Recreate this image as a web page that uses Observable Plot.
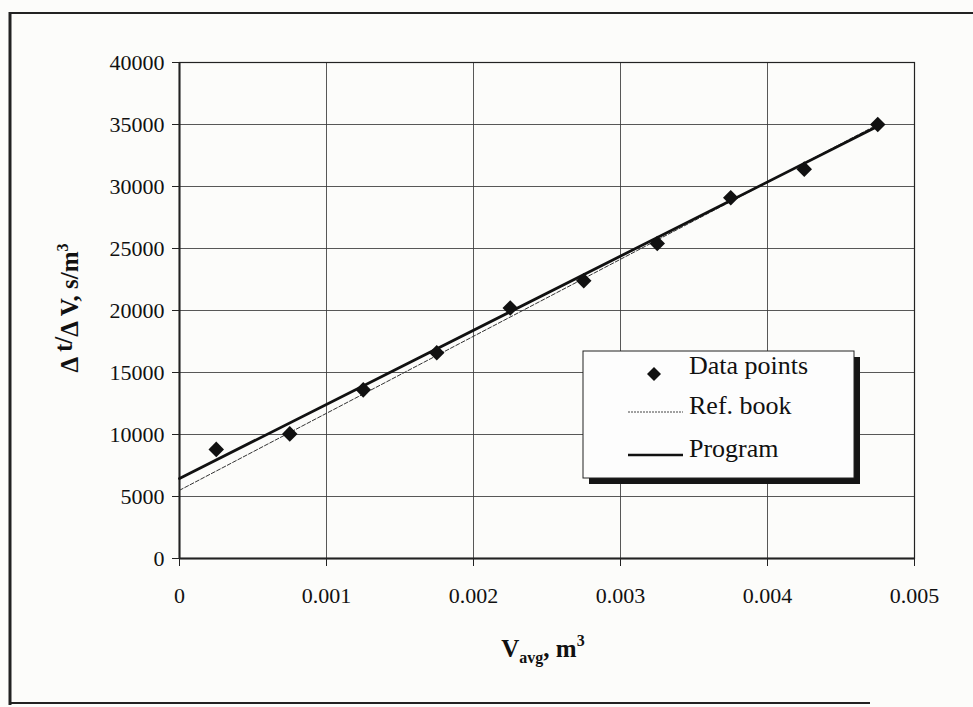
<!DOCTYPE html>
<html>
<head>
<meta charset="utf-8">
<script src="https://cdn.jsdelivr.net/npm/d3@7"></script>
<script src="https://cdn.jsdelivr.net/npm/@observablehq/plot@0.6"></script>
<style>
  html, body { margin: 0; padding: 0; background: #fcfcfa; }
  #chart { position: relative; width: 973px; height: 707px; }
  svg { font-family: "Liberation Serif", "DejaVu Serif", serif; }
</style>
</head>
<body>
<div id="chart"></div>
<script>
// ---- data ----
const vAvg = [0.00025, 0.00075, 0.00125, 0.00175, 0.00225, 0.00275, 0.00325, 0.00375, 0.00425, 0.00475];
const dtdv = [8800, 10050, 13600, 16600, 20200, 22400, 25400, 29100, 31400, 35000];
const refBookX = [0, 0.00475];
const refBookY = [5500, 35000];
const programX = [0, 0.00475];
const programY = [6450, 34850];
const xTicks = [0, 0.001, 0.002, 0.003, 0.004, 0.005];
const xTickLabels = ["0", "0.001", "0.002", "0.003", "0.004", "0.005"];
const yTicks = [0, 5000, 10000, 15000, 20000, 25000, 30000, 35000, 40000];
const legendLabels = ["Data points", "Ref. book", "Program"];

const points = vAvg.map((x, i) => ({x, y: dtdv[i]}));
const refLine = refBookX.map((x, i) => ({x, y: refBookY[i]}));
const progLine = programX.map((x, i) => ({x, y: programY[i]}));

const W = 973, H = 707;
const mL = 179, mR = 59, mT = 62, mB = 149;

const plot = Plot.plot({
  width: W,
  height: H,
  marginLeft: mL,
  marginRight: mR,
  marginTop: mT,
  marginBottom: mB,
  style: {background: "transparent", fontFamily: "Liberation Serif, serif", fontSize: "22px", color: "#111"},
  x: {domain: [0, 0.005]},
  y: {domain: [0, 40000]},
  marks: [
    Plot.gridX(xTicks, {stroke: "#3a3a3a", strokeOpacity: 0.85, strokeWidth: 1}),
    Plot.gridY(yTicks, {stroke: "#3a3a3a", strokeOpacity: 0.85, strokeWidth: 1}),
    Plot.frame({stroke: "#222", strokeWidth: 1.2}),
    Plot.axisX({ticks: xTicks, tickFormat: (d, i) => xTickLabels[i], tickSize: 8, tickPadding: 21, fontSize: 22, label: null, stroke: "#222"}),
    Plot.axisY({ticks: yTicks, tickFormat: d => String(d), tickSize: 7, tickPadding: 8, fontSize: 22, label: null, stroke: "#222"}),
    Plot.ruleX([0], {stroke: "#222", strokeWidth: 2}),
    Plot.ruleY([0], {stroke: "#222", strokeWidth: 2}),
    Plot.line(refLine, {x: "x", y: "y", stroke: "#333", strokeWidth: 1, strokeDasharray: "4,2"}),
    Plot.line(progLine, {x: "x", y: "y", stroke: "#111", strokeWidth: 2.8}),
    Plot.dot(points, {x: "x", y: "y", symbol: "square", r: 6.2, rotate: 45, fill: "#111", stroke: "none"})
  ]
});

document.getElementById("chart").appendChild(plot);
const svg = d3.select(plot);

// outer border of the figure
const border = svg.append("g").attr("stroke", "#222").attr("fill", "none");
border.append("line").attr("x1", 9).attr("x2", W).attr("y1", 13).attr("y2", 13).attr("stroke-width", 2.2);
border.append("line").attr("x1", 10).attr("x2", 10).attr("y1", 12).attr("y2", 705).attr("stroke-width", 3);
border.append("line").attr("x1", 9).attr("x2", 870).attr("y1", 703).attr("y2", 703).attr("stroke-width", 2.2);

// axis titles
const xt = svg.append("text")
  .attr("x", 543).attr("y", 657)
  .attr("text-anchor", "middle")
  .attr("font-weight", "bold").attr("font-size", 25).attr("fill", "#111");
xt.append("tspan").text("V");
xt.append("tspan").attr("font-size", 16).attr("dy", 6).text("avg");
xt.append("tspan").attr("dy", -6).text(", m");
xt.append("tspan").attr("font-size", 16).attr("dy", -11).text("3");

const yt = svg.append("text")
  .attr("transform", "translate(78,308) rotate(-90)")
  .attr("text-anchor", "middle")
  .attr("font-weight", "bold").attr("font-size", 25).attr("fill", "#111");
yt.append("tspan").text("\u0394 ");
yt.append("tspan").attr("dy", -6).text("t/");
yt.append("tspan").attr("dy", 6).text("\u0394 V, s/m");
yt.append("tspan").attr("font-size", 16).attr("dy", -10).text("3");

// legend
const lg = svg.append("g").attr("text-anchor", "start");
lg.append("rect").attr("x", 589).attr("y", 357).attr("width", 271).attr("height", 127).attr("fill", "#151515");
lg.append("rect").attr("x", 583).attr("y", 351).attr("width", 271).attr("height", 127).attr("fill", "#fdfdfd").attr("stroke", "#222").attr("stroke-width", 1);
lg.append("path").attr("d", d3.symbol(d3.symbolSquare, 98)()).attr("transform", "translate(654,374) rotate(45)").attr("fill", "#111");
lg.append("line").attr("x1", 628).attr("x2", 683).attr("y1", 412).attr("y2", 412).attr("stroke", "#444").attr("stroke-width", 1).attr("stroke-dasharray", "2,1");
lg.append("line").attr("x1", 628).attr("x2", 683).attr("y1", 455).attr("y2", 455).attr("stroke", "#111").attr("stroke-width", 2.4);
const baselines = [374, 414, 457];
legendLabels.forEach((t, i) => {
  lg.append("text").attr("x", 689).attr("y", baselines[i]).attr("text-anchor", "start").attr("font-size", 26).attr("fill", "#111").text(t);
});
</script>
</body>
</html>
